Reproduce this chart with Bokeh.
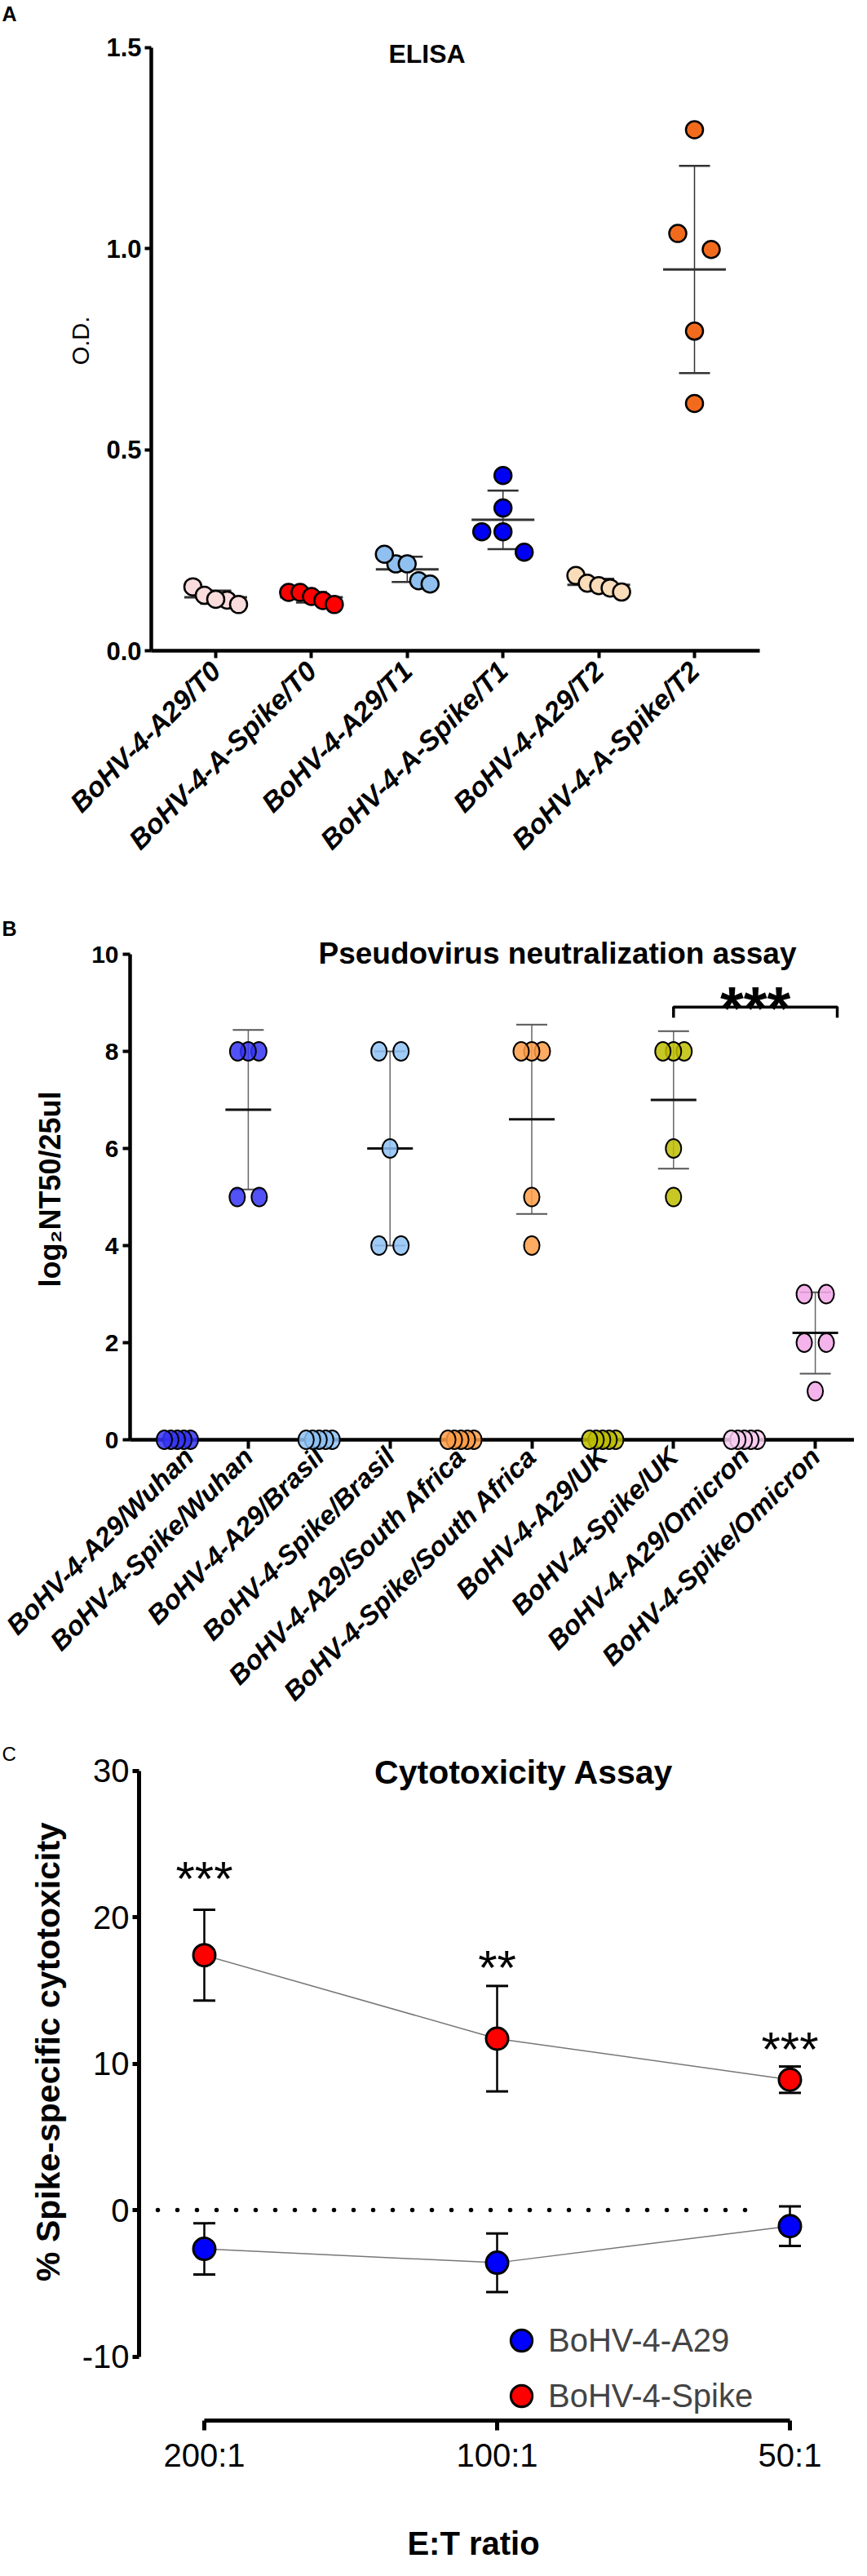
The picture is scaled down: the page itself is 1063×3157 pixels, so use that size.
import numpy as np
from math import pi
from bokeh.plotting import figure
from bokeh.layouts import column
from bokeh.models import (Range1d, FixedTicker, PrintfTickFormatter, Label,
                          Legend, LegendItem)
from bokeh.core.properties import value
from bokeh.embed import file_html
from bokeh.resources import INLINE

FONT = "Liberation Sans"

# ---------------- Panel A : ELISA ----------------
elisa_groups = ["BoHV-4-A29/T0", "BoHV-4-A-Spike/T0", "BoHV-4-A29/T1",
                "BoHV-4-A-Spike/T1", "BoHV-4-A29/T2", "BoHV-4-A-Spike/T2"]
od_a29_t0 = [0.159, 0.138, 0.126, 0.128, 0.115]
od_spike_t0 = [0.145, 0.145, 0.135, 0.125, 0.115]
od_a29_t1 = [0.216, 0.216, 0.240, 0.174, 0.166]
od_spike_t1 = [0.436, 0.355, 0.296, 0.296, 0.245]
od_a29_t2 = [0.187, 0.168, 0.162, 0.156, 0.146]
od_spike_t2 = [1.296, 1.038, 0.998, 0.795, 0.615]
elisa_colors = ["#FADCDC", "#FF0000", "#8FC0F0", "#0000F5", "#F9DCB9", "#F26B1D"]
elisa_ticks = [0.0, 0.5, 1.0, 1.5]

# ---------------- Panel B : pseudovirus neutralization ----------------
neut_groups = ["BoHV-4-A29/Wuhan", "BoHV-4-Spike/Wuhan", "BoHV-4-A29/Brasil",
               "BoHV-4-Spike/Brasil", "BoHV-4-A29/South Africa",
               "BoHV-4-Spike/South Africa", "BoHV-4-A29/UK", "BoHV-4-Spike/UK",
               "BoHV-4-A29/Omicron", "BoHV-4-Spike/Omicron"]
nt_a29_wuhan = [0, 0, 0, 0, 0]
nt_spike_wuhan = [8, 8, 8, 5, 5]
nt_a29_brasil = [0, 0, 0, 0, 0]
nt_spike_brasil = [8, 8, 6, 4, 4]
nt_a29_safrica = [0, 0, 0, 0, 0]
nt_spike_safrica = [8, 8, 8, 5, 4]
nt_a29_uk = [0, 0, 0, 0, 0]
nt_spike_uk = [8, 8, 8, 6, 5]
nt_a29_omicron = [0, 0, 0, 0, 0]
nt_spike_omicron = [3, 3, 2, 2, 1]
neut_colors = ["#3434F5", "#3434F5", "#8EC2F5", "#8EC2F5", "#FF9C45", "#FF9C45",
               "#BDBD00", "#BDBD00", "#F9CCF1", "#F2A6E6"]
neut_ticks = [0, 2, 4, 6, 8, 10]
neut_sig_pair = (7, 9)
neut_sig_text = "***"
neut_sig_bracket_y = 8.91
neut_sig_text_y = 9.19

# ---------------- Panel C : cytotoxicity ----------------
et_ratios = ["200:1", "100:1", "50:1"]
ctx_a29_mean = [-2.65, -3.6, -1.1]
ctx_a29_sd = [1.75, 2.0, 1.35]
ctx_spike_mean = [17.4, 11.7, 8.9]
ctx_spike_sd = [3.1, 3.6, 0.9]
ctx_sig = ["***", "**", "***"]
ctx_sig_y = [23.4, 17.35, 11.75]
ctx_ticks = [-10, 0, 10, 20, 30]
series_names = ["BoHV-4-A29", "BoHV-4-Spike"]
series_colors = ["#0000FF", "#FF0000"]

W = 1047          # every figure spans page x 8 .. 1055
PAGE_L, PAGE_R = 8, 8 + W


def ranges(fig_top, height, x_anchor_px, x_anchor_val, ppx, y_anchor_py, y_anchor_val, ppy):
    xr = (x_anchor_val + (PAGE_L - x_anchor_px) / ppx, x_anchor_val + (PAGE_R - x_anchor_px) / ppx)
    yr = (y_anchor_val - (fig_top + height - y_anchor_py) / ppy,
          y_anchor_val + (y_anchor_py - fig_top) / ppy)
    fx = lambda px: xr[0] + (px - PAGE_L) / ppx
    fy = lambda py: yr[1] - (py - fig_top) / ppy
    return xr, yr, fx, fy


def make_fig(height, xr, yr):
    p = figure(width=W, height=height, x_range=Range1d(*xr), y_range=Range1d(*yr),
               output_backend="svg", toolbar_location=None, min_border=0,
               min_border_left=0, min_border_right=0, min_border_top=0, min_border_bottom=0)
    p.grid.visible = False
    p.outline_line_color = None
    p.background_fill_color = "white"
    p.border_fill_color = "white"
    return p


def style_axis(ax, size, style, line_w, tick_w, tick_out, standoff):
    ax.axis_line_width = line_w
    ax.axis_line_color = "black"
    ax.major_tick_line_width = tick_w
    ax.major_tick_line_color = "black"
    ax.major_tick_out = tick_out
    ax.major_tick_in = 0
    ax.minor_tick_line_color = None
    ax.major_label_text_font = FONT
    ax.major_label_text_font_size = size
    ax.major_label_text_font_style = style
    ax.major_label_text_color = "black"
    ax.major_label_standoff = standoff


def add_label(p, x, y, text, size, style="normal", align="center", angle=0.0):
    p.add_layout(Label(x=x, y=y, text=text, text_font=FONT, text_font_size=size,
                       text_font_style=style, text_align=align,
                       text_baseline="middle", angle=angle, text_color="black"))


def spread_offsets(vals, ppu_y, thresh, widths):
    """GraphPad-like horizontal spreading of overlapping points (pixels)."""
    n = len(vals)
    order = sorted(range(n), key=lambda i: -vals[i])
    clusters = []
    for i in order:
        if clusters and (vals[clusters[-1][-1]] - vals[i]) * ppu_y < thresh:
            clusters[-1].append(i)
        else:
            clusters.append([i])
    offs = [0.0] * n
    for c in clusters:
        m = len(c)
        if m > 1:
            w = widths.get(m, max(widths.values()))
            for k, i in enumerate(c):
                offs[i] = -w / 2 + w * k / (m - 1)
    return offs


STAR_SHIFT = 0.2385   # asterisk centre above em-middle, in em

# ======================= Panel A =======================
A_top, A_h = 8, 1092
PPX_A, PPY_A = 117.4, 492.67
A_xr, A_yr, ax_, ay_ = ranges(A_top, A_h, 272, 0, PPX_A, 805, 0.0, PPY_A)
pA = make_fig(A_h, A_xr, A_yr)

elisa_series = [od_a29_t0, od_spike_t0, od_a29_t1, od_spike_t1, od_a29_t2, od_spike_t2]
idx = list(range(len(elisa_groups)))
means = np.array([np.mean(v) for v in elisa_series])
sds = np.array([np.std(v, ddof=1) for v in elisa_series])
pA.segment(x0=idx, y0=list(means - sds), x1=idx, y1=list(means + sds),
           line_color="#333333", line_width=1.5)
pA.scatter(x=idx + idx, y=list(means + sds) + list(means - sds), marker="dash",
           size=38, line_color="#333333", line_width=2.5)
pA.scatter(x=idx, y=list(means), marker="dash", size=77, line_color="#333333", line_width=3)
xs, ys, cs = [], [], []
for i, vals in enumerate(elisa_series):
    offs = spread_offsets(vals, PPY_A, 26, {2: 41, 3: 52, 4: 56, 5: 56})
    for v, o in zip(vals, offs):
        xs.append(i + o / PPX_A)
        ys.append(v)
        cs.append(elisa_colors[i])
pA.scatter(x=xs, y=ys, marker="circle", size=21, fill_color=cs,
           line_color="black", line_width=2.5)

pA.xaxis.ticker = FixedTicker(ticks=idx)
pA.xaxis.major_label_overrides = {i: g for i, g in enumerate(elisa_groups)}
pA.xaxis.major_label_orientation = pi / 4
pA.xaxis.fixed_location = 0.0
pA.xaxis.bounds = (ax_(193), ax_(939))
style_axis(pA.xaxis[0], "34px", "bold italic", 4.5, 4, 9, 10)
pA.yaxis.ticker = FixedTicker(ticks=elisa_ticks)
pA.yaxis.formatter = PrintfTickFormatter(format="%.1f")
pA.yaxis.fixed_location = ax_(193)
pA.yaxis.bounds = (0, 1.5)
style_axis(pA.yaxis[0], "31px", "bold", 4.5, 4, 8, 4)

add_label(pA, ax_(10), ay_(24), "A", "25px", "bold", align="left")
add_label(pA, ax_(531), ay_(73.5), "ELISA", "32px", "bold")
add_label(pA, ax_(106), ay_(425), "O.D.", "29px", "normal", angle=pi / 2)

# ======================= Panel B =======================
B_top, B_h = 1100, 1040
PPX_B, PPY_B = 86.9, 59.5
B_xr, B_yr, bx_, by_ = ranges(B_top, B_h, 225, 0, PPX_B, 1772, 0.0, PPY_B)
pB = make_fig(B_h, B_xr, B_yr)

neut_series = [nt_a29_wuhan, nt_spike_wuhan, nt_a29_brasil, nt_spike_brasil,
               nt_a29_safrica, nt_spike_safrica, nt_a29_uk, nt_spike_uk,
               nt_a29_omicron, nt_spike_omicron]
nidx = list(range(len(neut_groups)))
nmeans = np.array([np.mean(v) for v in neut_series])
nsds = np.array([np.std(v, ddof=1) for v in neut_series])
pB.segment(x0=nidx, y0=list(nmeans - nsds), x1=nidx, y1=list(nmeans + nsds),
           line_color="#666666", line_width=1.5)
pB.scatter(x=nidx + nidx, y=list(nmeans + nsds) + list(nmeans - nsds), marker="dash",
           size=38, line_color="#555555", line_width=2)
pB.scatter(x=nidx, y=list(nmeans), marker="dash", size=56, line_color="#111111", line_width=3)
bxs, bys, bcs = [], [], []
for i, vals in enumerate(neut_series):
    offs = spread_offsets(vals, PPY_B, 26, {2: 27, 3: 26, 4: 30, 5: 32})
    for v, o in zip(vals, offs):
        bxs.append(i + o / PPX_B)
        bys.append(v)
        bcs.append(neut_colors[i])
dots_b = pB.ellipse(x=bxs[::-1], y=bys[::-1], width=19, height=23, width_units="screen",
                    height_units="screen", fill_color=bcs[::-1], fill_alpha=0.85,
                    line_color="black", line_width=2)
dots_b.level = "overlay"

# significance bracket
i0, i1 = neut_sig_pair
drop = 13 / PPY_B
xb = [i0, i0, i1 + 0.31, i1 + 0.31]
yb = [neut_sig_bracket_y - drop, neut_sig_bracket_y, neut_sig_bracket_y, neut_sig_bracket_y - drop]
pB.line(x=xb, y=yb, line_color="black", line_width=3.5)
B_STAR = 74
pB.text(x=[(xb[0] + xb[-1]) / 2], y=[neut_sig_text_y - STAR_SHIFT * B_STAR / PPY_B],
        text=[neut_sig_text], text_font=value(FONT), text_font_size=f"{B_STAR}px",
        text_font_style="bold", text_align="center", text_baseline="middle",
        text_color="black")

pB.xaxis.ticker = FixedTicker(ticks=nidx)
pB.xaxis.major_label_overrides = {i: g for i, g in enumerate(neut_groups)}
pB.xaxis.major_label_orientation = pi / 4
pB.xaxis.fixed_location = 0.0
pB.xaxis.bounds = (bx_(167), B_xr[1])
style_axis(pB.xaxis[0], "33px", "bold italic", 4.5, 4, 11, 4)
pB.yaxis.ticker = FixedTicker(ticks=neut_ticks)
pB.yaxis.fixed_location = bx_(167)
pB.yaxis.bounds = (0, 10)
style_axis(pB.yaxis[0], "30px", "bold", 4.5, 4, 9, 5)

add_label(pB, bx_(10), by_(1145), "B", "25px", "bold", align="left")
add_label(pB, bx_(691), by_(1176), "Pseudovirus neutralization assay", "37px", "bold")
add_label(pB, bx_(69), by_(1465), "log\u2082NT50/25ul", "36px", "bold", angle=pi / 2)

# ======================= Panel C =======================
C_top, C_h = 2140, 1009
PPX_C, PPY_C = 359.0, 17.95
C_xr, C_yr, cx_, cy_ = ranges(C_top, C_h, 258, 0, PPX_C, 2716, 0.0, PPY_C)
pC = make_fig(C_h, C_xr, C_yr)

cidx = list(range(len(et_ratios)))
pC.line(x=[cx_(201), cx_(944)], y=[0, 0], line_color="black", line_width=5.5,
        line_dash="0 24", line_cap="round")
renderers = []
for mean, sd, col in [(ctx_a29_mean, ctx_a29_sd, series_colors[0]),
                      (ctx_spike_mean, ctx_spike_sd, series_colors[1])]:
    m = np.array(mean)
    s = np.array(sd)
    pC.line(x=cidx, y=mean, line_color="#777777", line_width=1.5)
    pC.segment(x0=cidx, y0=list(m - s), x1=cidx, y1=list(m + s),
               line_color="black", line_width=2.5)
    pC.scatter(x=cidx + cidx, y=list(m + s) + list(m - s), marker="dash", size=27,
               line_color="black", line_width=3)
    r = pC.scatter(x=cidx, y=mean, marker="circle", size=27, fill_color=col,
                   line_color="black", line_width=3)
    renderers.append(r)

C_STAR = 60
pC.text(x=cidx, y=[v - STAR_SHIFT * C_STAR / PPY_C for v in ctx_sig_y], text=ctx_sig,
        text_font=value(FONT), text_font_size=f"{C_STAR}px", text_align="center",
        text_baseline="middle", text_color="black")

legend = Legend(items=[LegendItem(label=series_names[0], renderers=[renderers[0]]),
                       LegendItem(label=series_names[1], renderers=[renderers[1]])],
                location=(614 - PAGE_L, C_top + C_h - 2978), glyph_width=66,
                glyph_height=68, label_standoff=0, padding=0, margin=0, spacing=0,
                border_line_color=None, background_fill_alpha=0, label_text_font=FONT,
                label_text_font_size="40px")
pC.add_layout(legend)

pC.xaxis.ticker = FixedTicker(ticks=cidx)
pC.xaxis.major_label_overrides = {i: r for i, r in enumerate(et_ratios)}
pC.xaxis.fixed_location = cy_(2974)
pC.xaxis.bounds = (0, 2)
style_axis(pC.xaxis[0], "40px", "normal", 5, 5, 12, 8)
pC.yaxis.ticker = FixedTicker(ticks=ctx_ticks)
pC.yaxis.major_label_overrides = {t: str(t) for t in ctx_ticks}
pC.yaxis.fixed_location = cx_(178)
pC.yaxis.bounds = (-10, 30)
style_axis(pC.yaxis[0], "40px", "normal", 5, 5, 8, 4)

add_label(pC, cx_(10), cy_(2157), "C", "24px", "normal", align="left")
add_label(pC, cx_(650), cy_(2179), "Cytotoxicity Assay", "41px", "bold")
add_label(pC, cx_(66), cy_(2522), "% Spike-specific cytotoxicity", "41px", "bold",
          angle=pi / 2)
add_label(pC, cx_(588), cy_(3124), "E:T ratio", "40px", "bold")

layout = column(pA, pB, pC)
open("out.html", "w").write(file_html(layout, INLINE))
